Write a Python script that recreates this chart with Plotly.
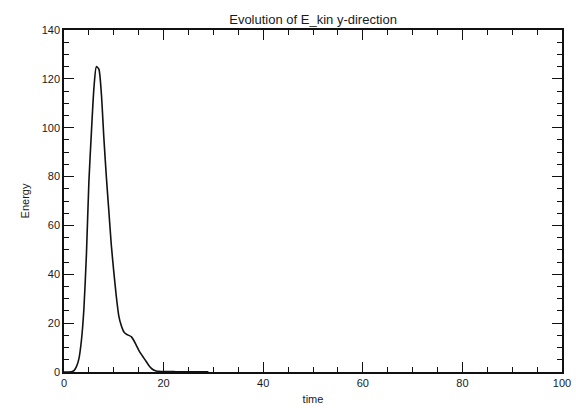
import plotly.graph_objects as go

time = [0, 0.5, 1, 1.5, 2, 2.5, 3, 3.5, 4, 4.5, 5, 5.5, 6, 6.5, 7, 7.5, 8, 8.5, 9, 9.5,
        10, 10.5, 11, 11.5, 12, 12.5, 13, 13.5, 14, 14.5, 15, 15.5, 16, 16.5, 17, 17.5,
        18, 18.5, 19, 19.5, 20, 21, 22, 23, 24, 25, 26, 27, 28, 29]
energy = [0, 0, 0, 0.1, 0.6, 2.2, 5.5, 13, 26, 48, 78, 98, 116, 125, 124, 114, 96, 80, 66, 52,
          41, 31, 23, 19, 16.5, 15.5, 15, 14.5, 13, 11, 9, 7.3, 5.8, 4.3, 2.8, 1.6,
          0.8, 0.4, 0.25, 0.2, 0.2, 0.15, 0.15, 0.1, 0.1, 0.1, 0.1, 0.1, 0.1, 0.1]

title_text = "Evolution of E_kin y-direction"
x_title = "time"
y_title = "Energy"

fig = go.Figure()
fig.add_trace(go.Scatter(x=time, y=energy, mode="lines",
                         line=dict(color="#111111", width=1.6, shape="spline", smoothing=0.6),
                         showlegend=False))

font_family = "Liberation Sans, Arial, sans-serif"
txt_color = "#1a1a1a"
axis_common = dict(
    showgrid=False, zeroline=False, showline=True, linecolor="#111111", linewidth=1.5,
    mirror="ticks", ticks="inside", ticklen=10, tickwidth=1.2, tickcolor="#111111",
    tickfont=dict(family=font_family, size=11, color=txt_color),
    minor=dict(ticks="inside", ticklen=5, tickwidth=1, tickcolor="#111111", dtick=5),
    automargin=False,
)

fig.update_layout(
    width=576, height=408,
    margin=dict(l=64, r=14, t=30, b=36),
    paper_bgcolor="white", plot_bgcolor="white",
    title=dict(text=title_text, x=0.5435, xanchor="center", y=1 - 19 / 408, yanchor="middle",
               font=dict(family=font_family, size=13, color=txt_color)),
    xaxis=dict(range=[0, 100], dtick=20, tick0=0,
               title=dict(text=x_title, standoff=7, font=dict(family=font_family, size=11, color=txt_color)),
               **axis_common),
    yaxis=dict(range=[0, 140], dtick=20, tick0=0,
               title=dict(text=y_title, standoff=10, font=dict(family=font_family, size=11, color=txt_color)),
               **axis_common),
)

fig.write_html("out.html")
